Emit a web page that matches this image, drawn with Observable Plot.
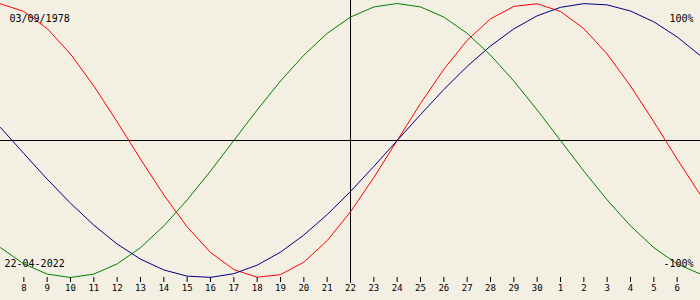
<!DOCTYPE html>
<html>
<head>
<meta charset="utf-8">
<script src="https://cdn.jsdelivr.net/npm/d3@7"></script>
<script src="https://cdn.jsdelivr.net/npm/@observablehq/plot@0.6"></script>
<style>
html, body { margin: 0; padding: 0; background: #f3efe3; overflow: hidden; }
#chart svg { display: block; }
</style>
</head>
<body>
<div id="chart"></div>
<script>
// Day-of-month labels, 7 April .. 7 May 2022
const days = ["7","8","9","10","11","12","13","14","15","16","17","18","19","20","21","22","23","24","25","26","27","28","29","30","1","2","3","4","5","6","7"];
// Biorhythm values (-1 .. 1) read per day
const physical = [0.998,0.942,0.817,0.631,0.398,0.136,-0.136,-0.398,-0.631,-0.817,-0.942,-0.998,-0.979,-0.888,-0.731,-0.520,-0.270,0,0.270,0.520,0.731,0.888,0.979,0.998,0.942,0.817,0.631,0.398,0.136,-0.136,-0.398];
const emotional = [-0.782,-0.901,-0.975,-1.0,-0.975,-0.901,-0.782,-0.623,-0.434,-0.223,0,0.223,0.434,0.623,0.782,0.901,0.975,1.0,0.975,0.901,0.782,0.623,0.434,0.223,0,-0.223,-0.434,-0.623,-0.782,-0.901,-0.975];
const intellectual = [0.095,-0.095,-0.282,-0.458,-0.618,-0.756,-0.866,-0.945,-0.990,-0.999,-0.972,-0.910,-0.815,-0.690,-0.541,-0.372,-0.189,0,0.189,0.372,0.541,0.690,0.815,0.910,0.972,0.999,0.990,0.945,0.866,0.756,0.618];
const birthDate = "03/09/1978";
const currentDate = "22-04-2022";
const currentDay = "22";
const topLabel = "100%";
const bottomLabel = "-100%";

const idx = days.map((d, i) => i);
const todayIndex = days.indexOf(currentDay);
const tickIdx = idx.slice(1, days.length - 1);

const font = "'DejaVu Sans Mono', monospace";

const chart = Plot.plot({
  width: 700,
  height: 300,
  marginTop: 3,
  marginBottom: 23,
  marginLeft: 0,
  marginRight: 0,
  style: { background: "#f3efe3", fontFamily: font, fontSize: "9px", color: "black", overflow: "visible" },
  x: { domain: [0, days.length - 1], ticks: tickIdx, tickFormat: i => days[i], tickSize: 5, tickPadding: 2, label: null },
  y: { domain: [-1, 1], axis: null },
  marks: [
    Plot.ruleY([0], { stroke: "black" }),
    Plot.ruleX([todayIndex], { stroke: "black", insetTop: -3, insetBottom: -6 }),
    Plot.line(physical, { x: (d, i) => i, y: d => d, stroke: "#ff0000", strokeWidth: 1 }),
    Plot.line(emotional, { x: (d, i) => i, y: d => d, stroke: "#008000", strokeWidth: 1 }),
    Plot.line(intellectual, { x: (d, i) => i, y: d => d, stroke: "#000080", strokeWidth: 1 }),
    Plot.text([birthDate], { text: d => d, frameAnchor: "top-left", dx: 9, dy: 15, textAnchor: "start", lineAnchor: "middle", fontSize: 10, fill: "black" }),
    Plot.text([topLabel], { text: d => d, frameAnchor: "top-right", dx: -7, dy: 15, textAnchor: "end", lineAnchor: "middle", fontSize: 10, fill: "black" }),
    Plot.text([currentDate], { text: d => d, frameAnchor: "bottom-left", dx: 4, dy: -14, textAnchor: "start", lineAnchor: "middle", fontSize: 10, fill: "black" }),
    Plot.text([bottomLabel], { text: d => d, frameAnchor: "bottom-right", dx: -7, dy: -14, textAnchor: "end", lineAnchor: "middle", fontSize: 10, fill: "black" })
  ]
});
document.getElementById("chart").appendChild(chart);
</script>
</body>
</html>
